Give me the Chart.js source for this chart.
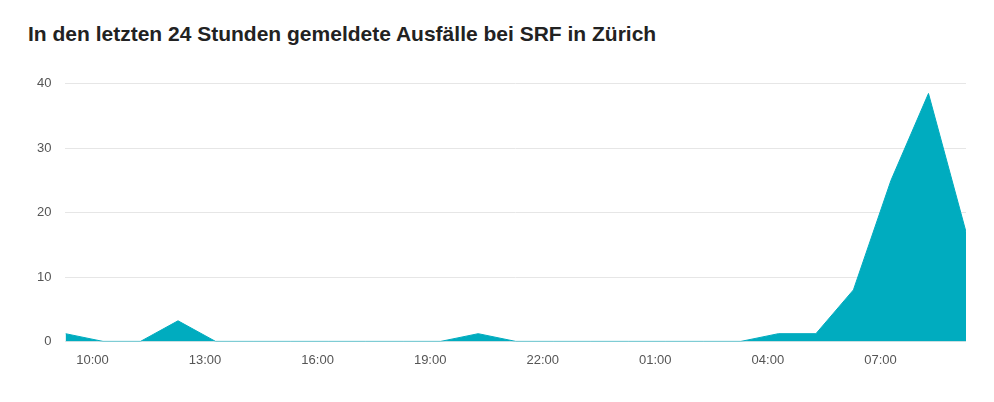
<!DOCTYPE html>
<html>
<head>
<meta charset="utf-8">
<script src="https://cdn.jsdelivr.net/npm/chart.js@4"></script>
<style>
  body { margin: 0; background: #fff; font-family: "Liberation Sans", Arial, sans-serif; }
  h1 { font-size: 21px; font-weight: bold; color: #222; margin: 0; position: absolute; left: 28px; top: 22px; }
  #wrap { position: absolute; left: 23px; top: 62px; width: 943px; height: 309px; }
</style>
</head>
<body>
<h1>In den letzten 24 Stunden gemeldete Ausfälle bei SRF in Zürich</h1>
<div id="wrap"><canvas id="chart"></canvas></div>
<script>
// hourly reports, first point at about 09:17
const startHour = 9.28;
const reports = [1.2, 0, 0, 3.2, 0, 0, 0, 0, 0, 0, 0, 1.2, 0, 0, 0, 0, 0, 0, 0, 1.2, 1.2, 8, 25, 38.5, 17];
const tickHours = [10, 13, 16, 19, 22, 25, 28, 31];
const yTicks = [0, 10, 20, 30, 40];

const points = reports.map((v, i) => ({ x: startHour + i, y: v }));

const ctx = document.getElementById('chart').getContext('2d');
new Chart(ctx, {
    type: 'line',
    data: {
        datasets: [{
            data: points,
            backgroundColor: '#00acbf',
            borderColor: '#00acbf',
            borderWidth: 1,
            pointRadius: 0,
            fill: 'origin',
            tension: 0
        }]
    },
    options: {
        responsive: true,
        maintainAspectRatio: false,
        animation: false,
        plugins: { legend: { display: false }, tooltip: { enabled: false } },
        scales: {
            x: {
                type: 'linear',
                min: startHour,
                max: startHour + reports.length - 1,
                afterBuildTicks: axis => { axis.ticks = tickHours.map(v => ({ value: v })); },
                ticks: {
                    color: '#555',
                    font: { size: 13 },
                    maxRotation: 0,
                    callback: v => String(v % 24).padStart(2, '0') + ':00'
                },
                grid: { display: false },
                border: { display: false }
            },
            y: {
                min: 0,
                max: 40,
                afterBuildTicks: axis => { axis.ticks = yTicks.map(v => ({ value: v })); },
                ticks: { color: '#555', font: { size: 13 }, padding: 14 },
                grid: { color: '#e6e6e6', drawTicks: false },
                border: { display: false }
            }
        }
    }
});
</script>
</body>
</html>
